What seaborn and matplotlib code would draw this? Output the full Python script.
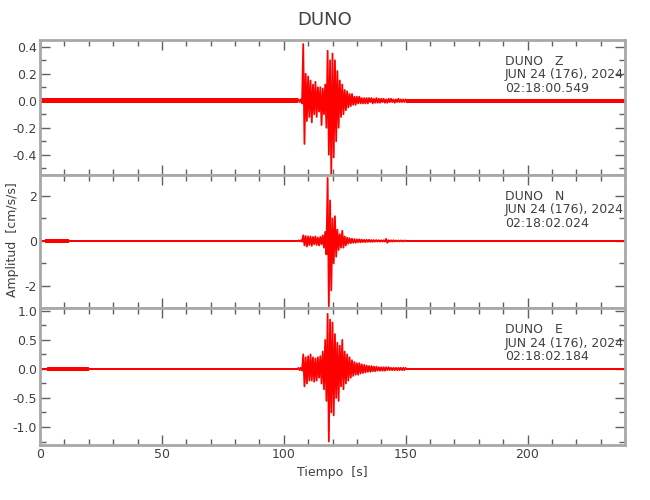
import numpy as np
import pandas as pd
import matplotlib
matplotlib.use("Agg")
import matplotlib.pyplot as plt
import seaborn as sns
from matplotlib.ticker import MultipleLocator

# station / channel info
station = "DUNO"
channels = ["Z", "N", "E"]
date_txt = "JUN 24 (176), 2024"
start_times = ["02:18:00.549", "02:18:02.024", "02:18:02.184"]

event_t = np.arange(106.0, 150.01, 0.5)

z_vals = [0.01, -0.01, 0.01, -0.02, 0.42, -0.32, 0.20, -0.15, 0.18, -0.12,
          0.15, -0.16, 0.12, -0.10, 0.14, -0.12, 0.10, -0.08, 0.10, -0.18,
          0.09, -0.10, 0.12, -0.20, 0.37, -0.40, 0.30, -0.55, 0.35, -0.42,
          0.30, -0.30, 0.22, -0.20, 0.15, -0.12, 0.12, -0.10, 0.08, -0.07,
          0.07, -0.05, 0.05, -0.04, 0.05, -0.03, 0.03, -0.03, 0.03, -0.02,
          0.03, -0.02, 0.02, -0.02, 0.02, -0.02, 0.02, -0.02, 0.02, -0.01,
          0.02, -0.02, 0.015, -0.015, 0.02, -0.015, 0.015, -0.015, 0.015, -0.01,
          0.015, -0.015, 0.01, -0.015, 0.015, -0.01, 0.015, -0.01, 0.01, -0.015,
          0.01, -0.01, 0.015, -0.01, 0.01, -0.01, 0.01, -0.01, 0.01]

n_vals = [0.02, -0.02, 0.03, -0.03, 0.25, -0.20, 0.22, -0.25, 0.20, -0.18,
          0.20, -0.22, 0.18, -0.15, 0.20, -0.18, 0.15, -0.20, 0.18, -0.15,
          0.25, -0.30, 0.40, -0.60, 2.80, -2.90, 1.80, -2.20, 1.00, -1.00,
          1.10, -0.70, 0.50, -0.40, 0.30, -0.30, 0.45, -0.30, 0.20, -0.20,
          0.15, -0.12, 0.12, -0.10, 0.10, -0.08, 0.08, -0.08, 0.07, -0.06,
          0.07, -0.06, 0.06, -0.05, 0.05, -0.05, 0.05, -0.04, 0.05, -0.04,
          0.04, -0.04, 0.04, -0.03, 0.04, -0.03, 0.03, -0.03, 0.03, -0.03,
          0.03, -0.03, 0.09, -0.08, 0.03, -0.03, 0.03, -0.03, 0.03, -0.02,
          0.02, -0.02, 0.02, -0.02, 0.02, -0.02, 0.02, -0.02, 0.02]

e_vals = [0.02, -0.02, 0.02, -0.03, 0.25, -0.30, 0.20, -0.25, 0.22, -0.20,
          0.25, -0.20, 0.20, -0.22, 0.18, -0.20, 0.20, -0.15, 0.22, -0.25,
          0.30, -0.35, 0.50, -0.55, 0.95, -1.25, 0.85, -0.75, 0.80, -0.80,
          0.60, -0.50, 0.45, -0.55, 0.40, -0.30, 0.50, -0.35, 0.30, -0.25,
          0.25, -0.20, 0.20, -0.15, 0.15, -0.12, 0.12, -0.10, 0.10, -0.10,
          0.10, -0.08, 0.08, -0.07, 0.07, -0.06, 0.06, -0.05, 0.05, -0.05,
          0.05, -0.04, 0.04, -0.04, 0.04, -0.03, 0.03, -0.03, 0.03, -0.03,
          0.03, -0.03, 0.03, -0.02, 0.03, -0.02, 0.02, -0.02, 0.02, -0.02,
          0.02, -0.02, 0.02, -0.02, 0.02, -0.02, 0.02, -0.02, 0.02]

# background noise: (start s, end s, half-width) per channel
z_noise = [(0, 106, 0.017), (150, 240, 0.016)]
n_noise = [(0, 2, 0.04), (2, 12, 0.07), (12, 106, 0.035), (150, 240, 0.03)]
e_noise = [(0, 3, 0.025), (3, 20, 0.035), (20, 106, 0.022), (150, 240, 0.02)]

y_limits = [(-0.55, 0.45), (-2.98, 2.93), (-1.31, 1.05)]
y_major = [0.2, 2, 0.5]
y_minor = [0.1, 1, 0.25]
y_fmt = ["{:.1f}", "{:.0f}", "{:.1f}"]

traces = [z_vals, n_vals, e_vals]
noises = [z_noise, n_noise, e_noise]

sns.set_style("ticks")
plt.rcParams['font.family'] = ['DejaVu Sans']
txt_col = "#404040"
axis_col = "#a8a8a8"
fs = 9

fig = plt.figure(figsize=(6.5, 5), dpi=100)
panel_tops = [40, 175, 308]
panel_bots = [175, 308, 445]

axes = []
for k in range(3):
    top, bot = panel_tops[k], panel_bots[k]
    ax = fig.add_axes([40 / 650, 1 - bot / 500, 585 / 650, (bot - top) / 500])
    axes.append(ax)

    for (a, b, w) in noises[k]:
        ax.fill_between([a, b], [-w, -w], [w, w], color="red", lw=0)

    df = pd.DataFrame({"t": event_t, "amp": traces[k]})
    sns.lineplot(data=df, x="t", y="amp", ax=ax, color="red", lw=1.3,
                 sort=False, estimator=None)

    ax.set_xlim(0, 240)
    ax.set_ylim(*y_limits[k])
    ax.xaxis.set_major_locator(MultipleLocator(50))
    ax.xaxis.set_minor_locator(MultipleLocator(10))
    ax.yaxis.set_major_locator(MultipleLocator(y_major[k]))
    ax.yaxis.set_minor_locator(MultipleLocator(y_minor[k]))
    ticks = [v for v in ax.get_yticks() if y_limits[k][0] <= v <= y_limits[k][1]]
    ax.set_yticks(ticks)
    ax.set_yticklabels([y_fmt[k].format(v + 0.0) for v in ticks])
    ax.tick_params(which="both", direction="in", top=True, right=True,
                   color="#606060", labelcolor=txt_col, labelsize=fs, width=1, pad=2)
    ax.tick_params(which="major", length=7)
    ax.tick_params(which="minor", length=4)
    for s in ax.spines.values():
        s.set_color(axis_col)
        s.set_linewidth(2)
    ax.set_xlabel("")
    ax.set_ylabel("")
    if k < 2:
        ax.tick_params(axis="x", labelbottom=False)

    ax.text(0.795, 0.89, f"{station}   {channels[k]}\n{date_txt}\n{start_times[k]}",
            transform=ax.transAxes, ha="left", va="top", fontsize=fs,
            color=txt_col, linespacing=1.05)

axes[2].set_xlabel("Tiempo  [s]", color=txt_col, fontsize=fs)
fig.text(13 / 650, 1 - 240 / 500, "Amplitud  [cm/s/s]", rotation=90,
         ha="center", va="center", color=txt_col, fontsize=fs)
fig.text(0.5, 1 - 20 / 500, station, ha="center", va="center",
         color=txt_col, fontsize=fs + 4)

fig.savefig("out.png", dpi=100)
